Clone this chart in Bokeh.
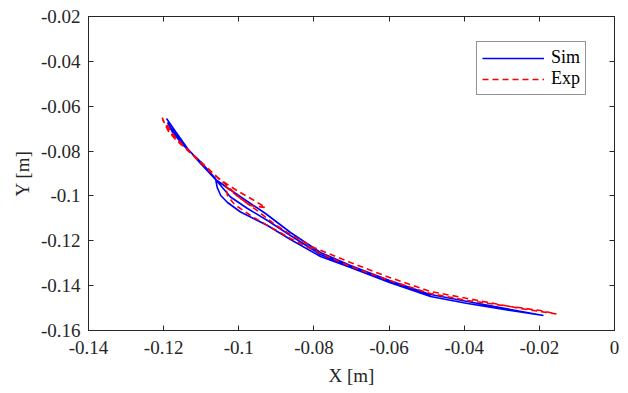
from bokeh.plotting import figure
from bokeh.models import (Range1d, FixedTicker, LinearAxis, Legend, LegendItem)
from bokeh.embed import file_html
from bokeh.resources import INLINE

# ---- data ----
sim_x = [-0.11924, -0.11684, -0.11365, -0.11019, -0.10620, -0.10141, -0.09688, -0.09289,
         -0.08624, -0.07825, -0.07027, -0.05989, -0.04897, -0.03912, -0.02768, -0.01890,
         -0.02768, -0.03912, -0.04897, -0.05989, -0.07027, -0.07825, -0.08624, -0.09236,
         -0.09608, -0.09954, -0.10300, -0.10480, -0.10575, -0.10620, -0.11019, -0.11445,
         -0.11764, -0.11897, -0.11817, -0.11392, -0.10992, -0.10620, -0.10220, -0.09768,
         -0.09236, -0.08624, -0.07825, -0.07027, -0.05989, -0.04897]
sim_y = [-0.06548, -0.07127, -0.07885, -0.08554, -0.09268, -0.09825, -0.10338, -0.10783,
         -0.11631, -0.12522, -0.13102, -0.13771, -0.14395, -0.14707, -0.15063, -0.15331,
         -0.15108, -0.14796, -0.14484, -0.13860, -0.13191, -0.12700, -0.11943, -0.11319,
         -0.11006, -0.10716, -0.10293, -0.09980, -0.09620, -0.09223, -0.08465, -0.07796,
         -0.07172, -0.06726, -0.06949, -0.07841, -0.08554, -0.09268, -0.10048, -0.10561,
         -0.11096, -0.11765, -0.12611, -0.13146, -0.13816, -0.14441]

exp_x = [-0.12038, -0.11977, -0.11871, -0.11684, -0.11418, -0.11019, -0.10673, -0.10380,
         -0.10008, -0.09635, -0.09289, -0.09688, -0.10061, -0.10354, -0.10300, -0.10114,
         -0.09688, -0.09369, -0.08624, -0.07825, -0.07027, -0.05989, -0.04897, -0.03912,
         -0.02768, -0.01970, -0.01544, -0.02502, -0.03912, -0.04897, -0.05989, -0.07027,
         -0.08011, -0.08624, -0.09076, -0.09475, -0.09954, -0.10380, -0.10886, -0.11338,
         -0.11684, -0.11924, -0.12030, -0.11817, -0.11285, -0.10700, -0.10433]
exp_y = [-0.06503, -0.06771, -0.07127, -0.07484, -0.07885, -0.08510, -0.09045, -0.09401,
         -0.09803, -0.10159, -0.10516, -0.10427, -0.09981, -0.09580, -0.09981, -0.10382,
         -0.10873, -0.11185, -0.11898, -0.12567, -0.13146, -0.13771, -0.14350, -0.14662,
         -0.14930, -0.15108, -0.15264, -0.15019, -0.14573, -0.14261, -0.13637, -0.12968,
         -0.12299, -0.11720, -0.11229, -0.10694, -0.10115, -0.09446, -0.08688, -0.07974,
         -0.07395, -0.06815, -0.06592, -0.07217, -0.08064, -0.08955, -0.09401]

x_ticks = [-0.14, -0.12, -0.10, -0.08, -0.06, -0.04, -0.02, 0.0]
x_tick_labels = ["-0.14", "-0.12", "-0.1", "-0.08", "-0.06", "-0.04", "-0.02", "0"]
y_ticks = [-0.16, -0.14, -0.12, -0.10, -0.08, -0.06, -0.04, -0.02]
y_tick_labels = ["-0.16", "-0.14", "-0.12", "-0.1", "-0.08", "-0.06", "-0.04", "-0.02"]
series_names = ["Sim", "Exp"]
x_title = "X [m]"
y_title = "Y [m]"

FONT = "Liberation Serif"
AX = "#262626"
FS = "19px"

p = figure(frame_width=526, frame_height=314,
           x_range=Range1d(-0.14, 0.0), y_range=Range1d(-0.16, -0.02),
           output_backend="svg", toolbar_location=None,
           min_border_left=88, min_border_right=8, min_border_top=16, min_border_bottom=58)
p.xgrid.visible = False
p.ygrid.visible = False
p.outline_line_color = AX
p.background_fill_color = "white"
p.border_fill_color = "white"

def style_axis(ax, ticks, labels, show_labels, standoff=9, title_standoff=5):
    ax.ticker = FixedTicker(ticks=ticks)
    ax.axis_line_color = AX
    ax.major_tick_line_color = AX
    ax.major_tick_in = 5
    ax.major_tick_out = 0
    ax.minor_tick_line_color = None
    ax.major_label_text_font = FONT
    ax.major_label_text_color = AX
    if show_labels:
        ax.major_label_overrides = {t: l for t, l in zip(ticks, labels)}
        ax.major_label_text_font_size = FS
        ax.major_label_standoff = standoff
        ax.axis_label_text_font = FONT
        ax.axis_label_text_font_size = FS
        ax.axis_label_text_font_style = "normal"
        ax.axis_label_text_color = AX
        ax.axis_label_standoff = title_standoff
    else:
        ax.major_label_overrides = {t: "" for t in ticks}
        ax.major_label_text_font_size = "10px"
        ax.major_label_standoff = 0

style_axis(p.xaxis[0], x_ticks, x_tick_labels, True, 10, 8)
style_axis(p.yaxis[0], y_ticks, y_tick_labels, True, 8, 5)
p.xaxis[0].axis_label = x_title
p.yaxis[0].axis_label = y_title
top_ax = LinearAxis()
right_ax = LinearAxis()
style_axis(top_ax, x_ticks, x_tick_labels, False)
style_axis(right_ax, y_ticks, y_tick_labels, False)
p.add_layout(top_ax, "above")
p.add_layout(right_ax, "right")

r_sim = p.line(sim_x, sim_y, line_color="#0000FF", line_width=1.6)
r_exp = p.line(exp_x, exp_y, line_color="#FF0000", line_width=1.6, line_dash="6 4")

legend = Legend(items=[LegendItem(label=series_names[0], renderers=[r_sim]),
                       LegendItem(label=series_names[1], renderers=[r_exp])],
                location=(388, 235), orientation="vertical")
legend.label_text_font = FONT
legend.label_text_font_size = "18px"
legend.label_text_color = "black"
legend.border_line_color = AX
legend.border_line_width = 1
legend.padding = 5
legend.margin = 0
legend.spacing = 0
legend.glyph_width = 62
legend.glyph_height = 20
legend.label_height = 20
legend.label_standoff = 7
legend.background_fill_alpha = 1.0
p.add_layout(legend, "center")

open("out.html", "w").write(file_html(p, INLINE))
